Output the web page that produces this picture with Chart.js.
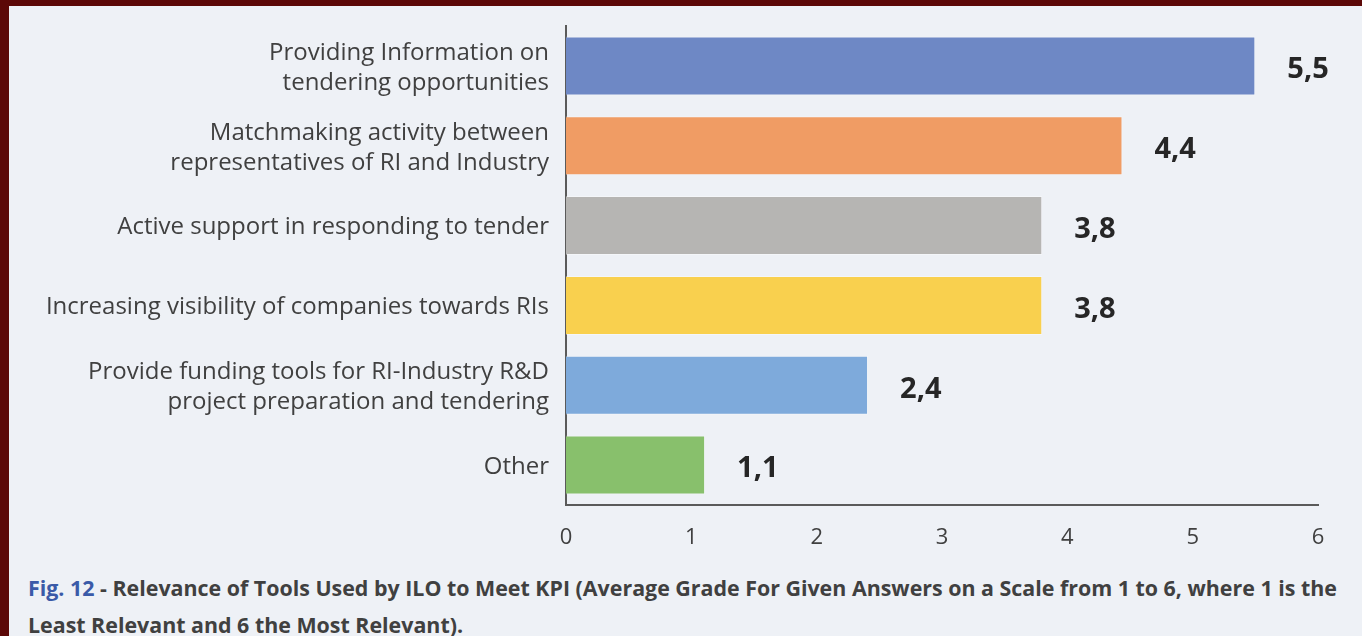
<!DOCTYPE html>
<html>
<head>
<meta charset="utf-8">
<script src="https://cdn.jsdelivr.net/npm/chart.js@4.4.1/dist/chart.umd.min.js"></script>
<style>
  html, body { margin: 0; padding: 0; }
  body { width: 1362px; height: 636px; background: #5c0808; position: relative; overflow: hidden; }
  #panel { position: absolute; left: 9px; top: 6px; width: 1353px; height: 630px; background: #eef1f6; }
  #chartBox { position: absolute; left: 0; top: -12px; width: 1353px; height: 564px; }
  #caption { position: absolute; left: 19px; top: 563px; font-family: "Open Sans", sans-serif; font-weight: bold;
             font-size: 21.4px; line-height: 37px; color: #404040; white-space: nowrap; }
  #caption .fig { color: #3a5aa8; }
</style>
</head>
<body>
<div id="panel">
  <div id="chartBox"><canvas id="toolsChart"></canvas></div>
  <div id="caption"><span class="fig">Fig. 12</span> - Relevance of Tools Used by ILO to Meet KPI (Average Grade For Given Answers on a Scale from 1 to 6, where 1 is the<br>Least Relevant and 6 the Most Relevant).</div>
</div>
<script>
// datos del grafico
var categories = [
  ['Providing Information on', 'tendering opportunities'],
  ['Matchmaking activity between', 'representatives of RI and Industry'],
  'Active support in responding to tender',
  'Increasing visibility of companies towards RIs',
  ['Provide funding tools for RI-Industry R&D', 'project preparation and tendering'],
  'Other'
];
var grades = [5.5, 4.44, 3.8, 3.8, 2.41, 1.11];
var barColors = ['#6e88c5', '#f09c64', '#b6b5b3', '#f9d04e', '#7eaadb', '#88c06c'];
var xTicks = [0, 1, 2, 3, 4, 5, 6];

// etiquetas de valor a la derecha de cada barra
var valueLabels = {
  id: 'valueLabels',
  afterDatasetsDraw: function(chart) {
    var ctx = chart.ctx;
    var meta = chart.getDatasetMeta(0);
    var xScale = chart.scales.x;
    ctx.save();
    ctx.font = 'bold 29px "Open Sans", sans-serif';
    ctx.fillStyle = '#262626';
    ctx.textAlign = 'left';
    ctx.textBaseline = 'middle';
    meta.data.forEach(function(bar, i) {
      var v = grades[i];
      ctx.fillText(v.toFixed(1).replace('.', ','), xScale.getPixelForValue(v) + 32, bar.y + 4);
    });
    ctx.restore();
  }
};

var ctx = document.getElementById('toolsChart').getContext('2d');
new Chart(ctx, {
  type: 'bar',
  data: {
    labels: categories,
    datasets: [{
      data: grades,
      backgroundColor: barColors,
      borderColor: 'rgba(255,255,255,0.35)',
      borderWidth: 1,
      categoryPercentage: 1,
      barPercentage: 0.74
    }]
  },
  options: {
    indexAxis: 'y',
    responsive: true,
    maintainAspectRatio: false,
    animation: false,
    layout: { padding: { top: 0, right: 44, left: 0, bottom: 0 } },
    plugins: { legend: { display: false }, tooltip: { enabled: false } },
    scales: {
      x: {
        min: 0,
        max: 6,
        afterBuildTicks: function(scale) {
          scale.ticks = xTicks.map(function(v) { return { value: v }; });
        },
        afterFit: function(scale) { scale.height = 53; },
        grid: { display: false, drawTicks: false },
        border: { display: true, color: '#5a5a5a', width: 2 },
        ticks: {
          padding: 20,
          color: '#404040',
          font: { family: '"Open Sans", sans-serif', size: 22 }
        }
      },
      y: {
        afterFit: function(scale) { scale.width = 557; },
        grid: { display: false, drawTicks: false },
        border: { display: true, color: '#5a5a5a', width: 2 },
        ticks: {
          padding: 17,
          labelOffset: 2,
          color: '#404040',
          font: { family: '"Open Sans", sans-serif', size: 24, lineHeight: 1.25 }
        }
      }
    }
  },
  plugins: [valueLabels]
});
</script>
</body>
</html>
